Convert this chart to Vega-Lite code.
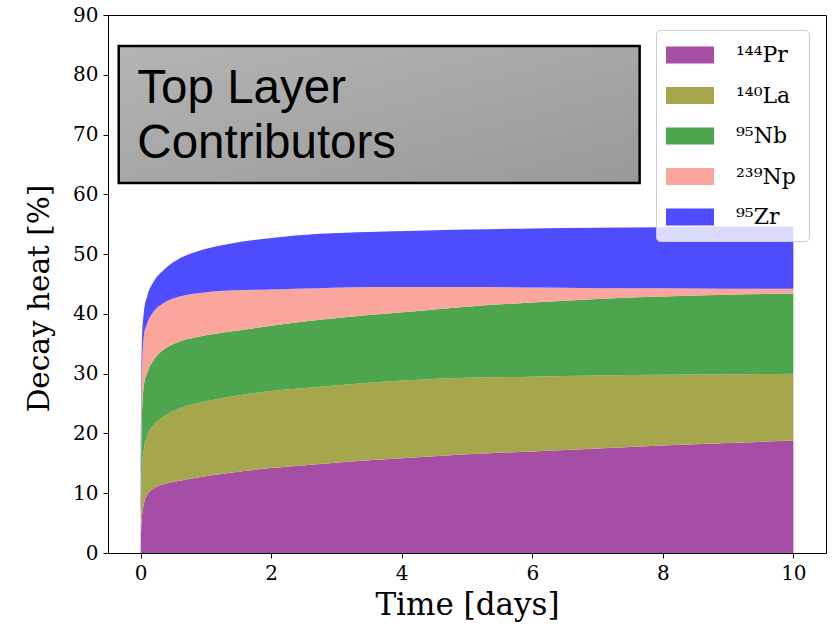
{
  "$schema": "https://vega.github.io/schema/vega-lite/v6.json",
  "width": 718,
  "height": 538,
  "autosize": {"type": "none"},
  "padding": {"left": 108, "top": 15, "right": 7, "bottom": 72},
  "background": "white",
  "config": {
    "view": {"stroke": "#000", "strokeWidth": 1},
    "font": "DejaVu Serif",
    "axis": {
      "grid": false,
      "domain": false,
      "tickColor": "#000",
      "tickSize": 5,
      "labelColor": "#000",
      "labelFont": "DejaVu Serif",
      "labelFontSize": 20,
      "titleFont": "DejaVu Serif",
      "titleFontWeight": "normal",
      "titleColor": "#000"
    }
  },
  "layer": [
    {
      "data": {
        "values": [
          {"t": 0, "iso": "¹⁴⁴Pr", "v": 0}, {"t": 0, "iso": "¹⁴⁰La", "v": 0}, {"t": 0, "iso": "⁹⁵Nb", "v": 0}, {"t": 0, "iso": "²³⁹Np", "v": 0}, {"t": 0, "iso": "⁹⁵Zr", "v": 0},
          {"t": 0.005, "iso": "¹⁴⁴Pr", "v": 3}, {"t": 0.005, "iso": "¹⁴⁰La", "v": 3}, {"t": 0.005, "iso": "⁹⁵Nb", "v": 6}, {"t": 0.005, "iso": "²³⁹Np", "v": 6}, {"t": 0.005, "iso": "⁹⁵Zr", "v": 6},
          {"t": 0.02, "iso": "¹⁴⁴Pr", "v": 6.0}, {"t": 0.02, "iso": "¹⁴⁰La", "v": 8.0}, {"t": 0.02, "iso": "⁹⁵Nb", "v": 9.0}, {"t": 0.02, "iso": "²³⁹Np", "v": 8.0}, {"t": 0.02, "iso": "⁹⁵Zr", "v": 4.5},
          {"t": 0.05, "iso": "¹⁴⁴Pr", "v": 8.2}, {"t": 0.05, "iso": "¹⁴⁰La", "v": 9.2}, {"t": 0.05, "iso": "⁹⁵Nb", "v": 10.6}, {"t": 0.05, "iso": "²³⁹Np", "v": 8.4}, {"t": 0.05, "iso": "⁹⁵Zr", "v": 3.9},
          {"t": 0.1, "iso": "¹⁴⁴Pr", "v": 9.7}, {"t": 0.1, "iso": "¹⁴⁰La", "v": 9.8}, {"t": 0.1, "iso": "⁹⁵Nb", "v": 10.6}, {"t": 0.1, "iso": "²³⁹Np", "v": 8.3}, {"t": 0.1, "iso": "⁹⁵Zr", "v": 4.5},
          {"t": 0.2, "iso": "¹⁴⁴Pr", "v": 10.8}, {"t": 0.2, "iso": "¹⁴⁰La", "v": 10.6}, {"t": 0.2, "iso": "⁹⁵Nb", "v": 10.9}, {"t": 0.2, "iso": "²³⁹Np", "v": 8.1}, {"t": 0.2, "iso": "⁹⁵Zr", "v": 5.0},
          {"t": 0.35, "iso": "¹⁴⁴Pr", "v": 11.5}, {"t": 0.35, "iso": "¹⁴⁰La", "v": 11.3}, {"t": 0.35, "iso": "⁹⁵Nb", "v": 11.2}, {"t": 0.35, "iso": "²³⁹Np", "v": 7.8}, {"t": 0.35, "iso": "⁹⁵Zr", "v": 5.5},
          {"t": 0.6, "iso": "¹⁴⁴Pr", "v": 12.1}, {"t": 0.6, "iso": "¹⁴⁰La", "v": 12.1}, {"t": 0.6, "iso": "⁹⁵Nb", "v": 11.2}, {"t": 0.6, "iso": "²³⁹Np", "v": 7.5}, {"t": 0.6, "iso": "⁹⁵Zr", "v": 6.4},
          {"t": 0.85, "iso": "¹⁴⁴Pr", "v": 12.6}, {"t": 0.85, "iso": "¹⁴⁰La", "v": 12.4}, {"t": 0.85, "iso": "⁹⁵Nb", "v": 11.1}, {"t": 0.85, "iso": "²³⁹Np", "v": 7.3}, {"t": 0.85, "iso": "⁹⁵Zr", "v": 7.0},
          {"t": 1.35, "iso": "¹⁴⁴Pr", "v": 13.4}, {"t": 1.35, "iso": "¹⁴⁰La", "v": 12.7}, {"t": 1.35, "iso": "⁹⁵Nb", "v": 10.9}, {"t": 1.35, "iso": "²³⁹Np", "v": 6.9}, {"t": 1.35, "iso": "⁹⁵Zr", "v": 7.8},
          {"t": 2, "iso": "¹⁴⁴Pr", "v": 14.2}, {"t": 2, "iso": "¹⁴⁰La", "v": 12.9}, {"t": 2, "iso": "⁹⁵Nb", "v": 10.9}, {"t": 2, "iso": "²³⁹Np", "v": 6.1}, {"t": 2, "iso": "⁹⁵Zr", "v": 8.6},
          {"t": 2.75, "iso": "¹⁴⁴Pr", "v": 14.9}, {"t": 2.75, "iso": "¹⁴⁰La", "v": 12.9}, {"t": 2.75, "iso": "⁹⁵Nb", "v": 11.2}, {"t": 2.75, "iso": "²³⁹Np", "v": 5.3}, {"t": 2.75, "iso": "⁹⁵Zr", "v": 9.1},
          {"t": 3.5, "iso": "¹⁴⁴Pr", "v": 15.5}, {"t": 3.5, "iso": "¹⁴⁰La", "v": 13.0}, {"t": 3.5, "iso": "⁹⁵Nb", "v": 11.3}, {"t": 3.5, "iso": "²³⁹Np", "v": 4.7}, {"t": 3.5, "iso": "⁹⁵Zr", "v": 9.2},
          {"t": 4.25, "iso": "¹⁴⁴Pr", "v": 16.0}, {"t": 4.25, "iso": "¹⁴⁰La", "v": 13.0}, {"t": 4.25, "iso": "⁹⁵Nb", "v": 11.5}, {"t": 4.25, "iso": "²³⁹Np", "v": 4.0}, {"t": 4.25, "iso": "⁹⁵Zr", "v": 9.4},
          {"t": 5, "iso": "¹⁴⁴Pr", "v": 16.5}, {"t": 5, "iso": "¹⁴⁰La", "v": 12.8}, {"t": 5, "iso": "⁹⁵Nb", "v": 11.9}, {"t": 5, "iso": "²³⁹Np", "v": 3.3}, {"t": 5, "iso": "⁹⁵Zr", "v": 9.6},
          {"t": 6, "iso": "¹⁴⁴Pr", "v": 17.0}, {"t": 6, "iso": "¹⁴⁰La", "v": 12.5}, {"t": 6, "iso": "⁹⁵Nb", "v": 12.4}, {"t": 6, "iso": "²³⁹Np", "v": 2.5}, {"t": 6, "iso": "⁹⁵Zr", "v": 9.9},
          {"t": 7, "iso": "¹⁴⁴Pr", "v": 17.5}, {"t": 7, "iso": "¹⁴⁰La", "v": 12.2}, {"t": 7, "iso": "⁹⁵Nb", "v": 12.8}, {"t": 7, "iso": "²³⁹Np", "v": 1.8}, {"t": 7, "iso": "⁹⁵Zr", "v": 10.1},
          {"t": 8, "iso": "¹⁴⁴Pr", "v": 18.0}, {"t": 8, "iso": "¹⁴⁰La", "v": 11.8}, {"t": 8, "iso": "⁹⁵Nb", "v": 13.1}, {"t": 8, "iso": "²³⁹Np", "v": 1.4}, {"t": 8, "iso": "⁹⁵Zr", "v": 10.2},
          {"t": 9, "iso": "¹⁴⁴Pr", "v": 18.4}, {"t": 9, "iso": "¹⁴⁰La", "v": 11.5}, {"t": 9, "iso": "⁹⁵Nb", "v": 13.3}, {"t": 9, "iso": "²³⁹Np", "v": 1.0}, {"t": 9, "iso": "⁹⁵Zr", "v": 10.4},
          {"t": 10, "iso": "¹⁴⁴Pr", "v": 18.8}, {"t": 10, "iso": "¹⁴⁰La", "v": 11.2}, {"t": 10, "iso": "⁹⁵Nb", "v": 13.4}, {"t": 10, "iso": "²³⁹Np", "v": 0.8}, {"t": 10, "iso": "⁹⁵Zr", "v": 10.4}
        ]
      },
      "transform": [
        {"calculate": "indexof(['¹⁴⁴Pr', '¹⁴⁰La', '⁹⁵Nb', '²³⁹Np', '⁹⁵Zr'], datum.iso)", "as": "rank"}
      ],
      "mark": {"type": "area", "interpolate": "monotone"},
      "encoding": {
        "x": {
          "field": "t",
          "type": "quantitative",
          "scale": {"domain": [-0.5, 10.5], "nice": false, "zero": false},
          "axis": {"values": [0, 2, 4, 6, 8, 10], "format": "d", "title": "Time [days]", "titleFontSize": 31, "labelPadding": 5, "titlePadding": 7}
        },
        "y": {
          "field": "v",
          "type": "quantitative",
          "stack": "zero",
          "scale": {"domain": [0, 90], "nice": false},
          "axis": {"values": [0, 10, 20, 30, 40, 50, 60, 70, 80, 90], "format": "d", "title": "Decay heat [%]", "titleFontSize": 29.5, "titleY": 283, "labelPadding": 5, "titlePadding": 18}
        },
        "order": {"field": "rank", "type": "quantitative", "sort": "ascending"},
        "color": {
          "field": "iso",
          "type": "nominal",
          "sort": ["¹⁴⁴Pr", "¹⁴⁰La", "⁹⁵Nb", "²³⁹Np", "⁹⁵Zr"],
          "scale": {
            "domain": ["¹⁴⁴Pr", "¹⁴⁰La", "⁹⁵Nb", "²³⁹Np", "⁹⁵Zr"],
            "range": ["#a64da6", "#a6a64d", "#4da64d", "#fba69c", "#4d4dff"]
          },
          "legend": {
            "title": null,
            "orient": "none",
            "legendX": 548,
            "legendY": 15,
            "symbolType": "M-2,-0.708H2V0.708H-2Z",
            "symbolSize": 576,
            "symbolOpacity": 1,
            "symbolStrokeWidth": 0,
            "symbolOffset": 9,
            "labelFont": "DejaVu Serif",
            "labelFontSize": 22,
            "labelColor": "#000",
            "labelOffset": 34,
            "rowPadding": 17.5,
            "padding": 13,
            "fillColor": "rgba(255,255,255,0.8)",
            "strokeColor": "#cccccc",
            "cornerRadius": 4
          }
        }
      }
    },
    {
      "data": {"values": [{}]},
      "mark": {
        "type": "rect",
        "fill": {"gradient": "linear", "x1": 0, "y1": 0, "x2": 1, "y2": 1, "stops": [{"offset": 0, "color": "#b4b4b4"}, {"offset": 1, "color": "#999999"}]},
        "stroke": "#000",
        "strokeWidth": 2.5
      },
      "encoding": {
        "x": {"datum": -0.336, "type": "quantitative"},
        "x2": {"datum": 7.645},
        "y": {"datum": 84.8, "type": "quantitative"},
        "y2": {"datum": 61.9}
      }
    },
    {
      "data": {"values": [{}]},
      "mark": {
        "type": "text",
        "text": ["Top Layer", "Contributors"],
        "font": "Liberation Sans",
        "fontSize": 47.5,
        "align": "left",
        "baseline": "alphabetic",
        "lineHeight": 55.3,
        "color": "#000"
      },
      "encoding": {
        "x": {"datum": -0.05, "type": "quantitative"},
        "y": {"datum": 75.33, "type": "quantitative"}
      }
    }
  ]
}
